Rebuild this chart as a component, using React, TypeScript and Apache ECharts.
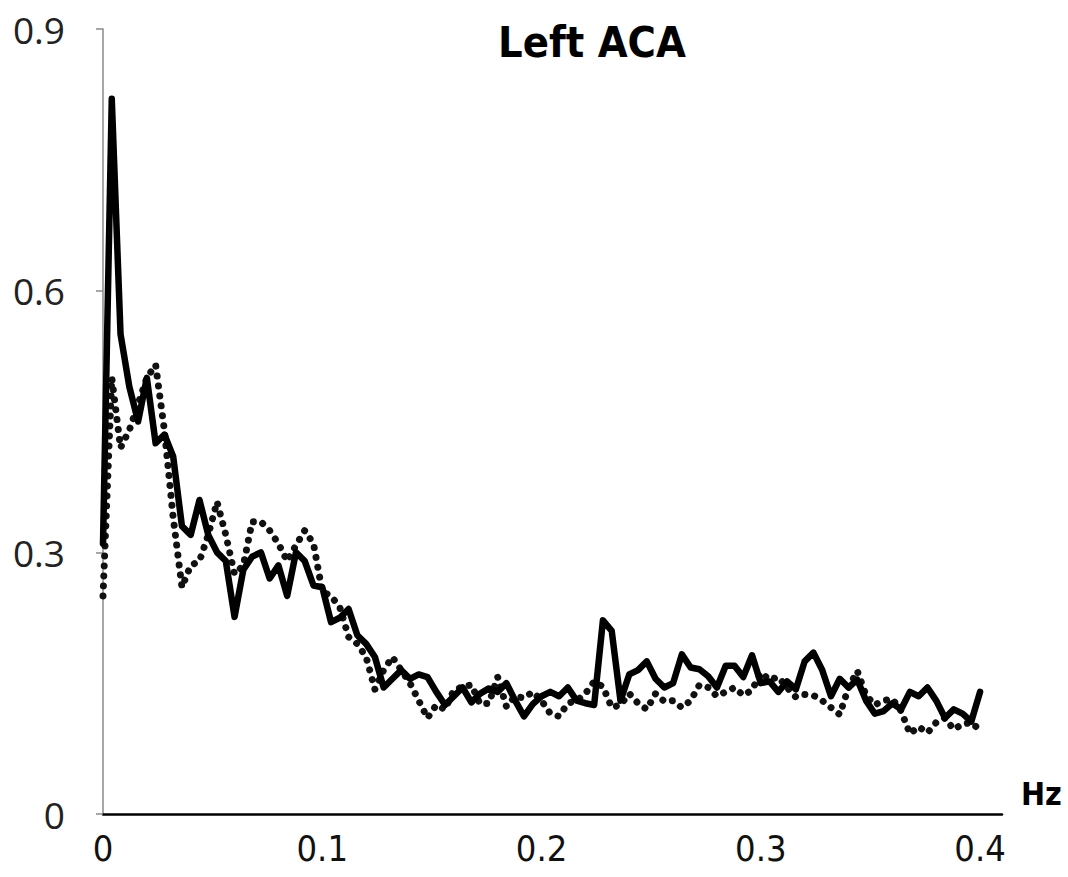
import React, { useEffect, useRef } from "react";
import * as echarts from "echarts";

const freqHz = [
  0, 0.004, 0.008, 0.012, 0.016, 0.02, 0.024, 0.028, 0.032, 0.036,
  0.04, 0.044, 0.048, 0.052, 0.056, 0.06, 0.064, 0.068, 0.072, 0.076,
  0.08, 0.084, 0.088, 0.092, 0.096, 0.1, 0.104, 0.108, 0.112, 0.116,
  0.12, 0.124, 0.128, 0.132, 0.136, 0.14, 0.144, 0.148, 0.152, 0.156,
  0.16, 0.164, 0.168, 0.172, 0.176, 0.18, 0.184, 0.188, 0.192, 0.196,
  0.2, 0.204, 0.208, 0.212, 0.216, 0.22, 0.224, 0.228, 0.232, 0.236,
  0.24, 0.244, 0.248, 0.252, 0.256, 0.26, 0.264, 0.268, 0.272, 0.276,
  0.28, 0.284, 0.288, 0.292, 0.296, 0.3, 0.304, 0.308, 0.312, 0.316,
  0.32, 0.324, 0.328, 0.332, 0.336, 0.34, 0.344, 0.348, 0.352, 0.356,
  0.36, 0.364, 0.368, 0.372, 0.376, 0.38, 0.384, 0.388, 0.392, 0.396,
  0.4,
];

const solidSeries = [
  0.31, 0.82, 0.55, 0.49, 0.45, 0.50, 0.425, 0.435, 0.41, 0.33,
  0.32, 0.36, 0.32, 0.30, 0.29, 0.226, 0.28, 0.295, 0.30, 0.27,
  0.285, 0.25, 0.30, 0.29, 0.262, 0.26, 0.22, 0.225, 0.235, 0.205,
  0.195, 0.18, 0.145, 0.155, 0.165, 0.155, 0.16, 0.157, 0.14, 0.125,
  0.135, 0.145, 0.128, 0.138, 0.144, 0.14, 0.15, 0.13, 0.112, 0.126,
  0.135, 0.14, 0.135, 0.145, 0.13, 0.127, 0.125, 0.222, 0.21, 0.13,
  0.16, 0.165, 0.175, 0.155, 0.145, 0.15, 0.183, 0.168, 0.166, 0.158,
  0.145, 0.17, 0.17, 0.157, 0.182, 0.15, 0.152, 0.14, 0.152, 0.143,
  0.175, 0.185, 0.165, 0.135, 0.155, 0.145, 0.154, 0.13, 0.115, 0.118,
  0.127, 0.12, 0.14, 0.135, 0.145, 0.13, 0.11, 0.12, 0.115, 0.106,
  0.14,
];

const dottedSeries = [
  0.25, 0.50, 0.42, 0.44, 0.47, 0.50, 0.515, 0.44, 0.34, 0.26,
  0.285, 0.29, 0.32, 0.358, 0.32, 0.275, 0.285, 0.335, 0.335, 0.325,
  0.31, 0.29, 0.308, 0.325, 0.31, 0.255, 0.25, 0.237, 0.203, 0.195,
  0.18, 0.143, 0.165, 0.18, 0.165, 0.15, 0.13, 0.11, 0.125, 0.12,
  0.142, 0.146, 0.148, 0.126, 0.127, 0.157, 0.123, 0.135, 0.133, 0.14,
  0.13, 0.115, 0.112, 0.127, 0.13, 0.138, 0.152, 0.146, 0.122, 0.125,
  0.138, 0.127, 0.12, 0.138, 0.129, 0.13, 0.122, 0.13, 0.148, 0.145,
  0.135, 0.14, 0.145, 0.136, 0.142, 0.162, 0.154, 0.157, 0.145, 0.134,
  0.137, 0.136, 0.13, 0.122, 0.114, 0.145, 0.164, 0.136, 0.125, 0.13,
  0.132, 0.118, 0.092, 0.1, 0.093, 0.105, 0.11, 0.097, 0.103, 0.105,
  0.096,
];

const yTicks = [0, 0.3, 0.6, 0.9];
const xTicks = [0, 0.1, 0.2, 0.3, 0.4];
const titleText = "Left ACA";
const xUnit = "Hz";

export default function App() {
  const ref = useRef<HTMLDivElement>(null);
  useEffect(() => {
    if (!ref.current) return;
    const chart = echarts.init(ref.current, undefined, { renderer: "svg" });
    const narrow = "'Liberation Sans Narrow', 'DejaVu Sans Condensed', sans-serif";
    chart.setOption({
      animation: false,
      backgroundColor: "#ffffff",
      grid: { left: 103, right: 66, top: 29, bottom: 63, containLabel: false },
      xAxis: {
        type: "value",
        min: xTicks[0],
        max: 0.41,
        interval: 0.1,
        axisLine: { show: true, lineStyle: { color: "#000", width: 2.5 } },
        axisTick: { show: false },
        splitLine: { show: false },
        axisLabel: {
          showMaxLabel: false,
          margin: 16,
          color: "#111",
          fontSize: 36,
          fontFamily: narrow,
          formatter: (v: number) => {
            const t = xTicks.find((x) => Math.abs(x - v) < 1e-6);
            return t === undefined ? "" : t === 0 ? "0" : t.toFixed(1);
          },
        },
      },
      yAxis: {
        type: "value",
        min: yTicks[0],
        max: yTicks[yTicks.length - 1],
        interval: 0.3,
        axisLine: { show: true, lineStyle: { color: "#8a8a8a", width: 1.5 } },
        axisTick: { show: true, inside: false, length: 7, lineStyle: { color: "#8a8a8a", width: 1.5 } },
        splitLine: { show: false },
        axisLabel: {
          margin: 38,
          color: "#222",
          fontSize: 37,
          fontFamily: "'Open Sans', sans-serif",
          formatter: (v: number) => {
            const t = yTicks.find((x) => Math.abs(x - v) < 1e-6);
            return t === undefined ? "" : t === 0 ? "0" : t.toFixed(1);
          },
        },
      },
      graphic: [
        {
          type: "text",
          left: 498,
          top: 20,
          style: { text: titleText, font: `bold 43px ${narrow}`, fill: "#000" },
        },
        {
          type: "text",
          left: 1021,
          top: 778,
          style: { text: xUnit, font: `bold 32px ${narrow}`, fill: "#000" },
        },
      ],
      series: [
        {
          type: "line",
          name: "dotted",
          data: freqHz.map((f, i) => [f, dottedSeries[i]]),
          showSymbol: false,
          symbol: "none",
          lineStyle: { color: "#111", width: 7, type: [0.01, 10], cap: "round" },
          z: 2,
        },
        {
          type: "line",
          name: "solid",
          data: freqHz.map((f, i) => [f, solidSeries[i]]),
          showSymbol: false,
          symbol: "none",
          lineStyle: { color: "#000", width: 6.5, join: "round", cap: "round" },
          z: 3,
        },
      ],
    });
    return () => chart.dispose();
  }, []);
  return (
    <div
      ref={ref}
      style={{ position: "absolute", left: 0, top: 0, width: 1068, height: 877 }}
    />
  );
}
